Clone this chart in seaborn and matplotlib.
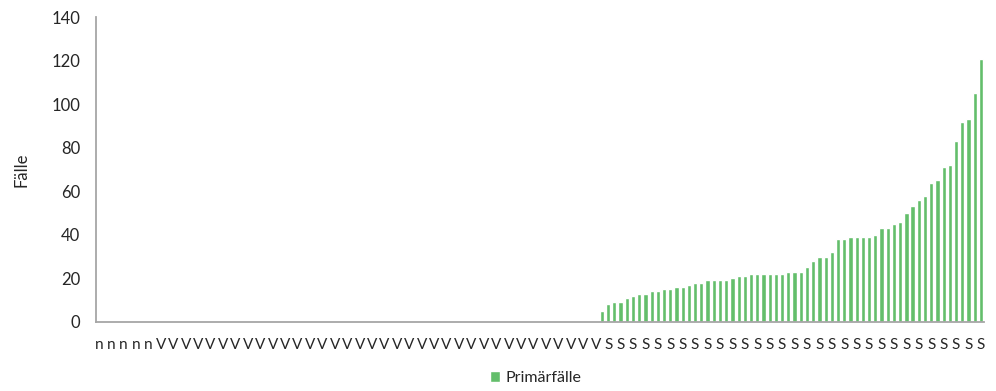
import matplotlib
matplotlib.use("Agg")
import matplotlib.pyplot as plt
import seaborn as sns
import numpy as np
import pandas as pd

# category groups (labels as shown on the axis)
n_labels = ["n"] * 10
v_labels = ["V"] * 71
s_labels = ["S"] * 62

# cases per category: n and V have no cases
n_values = [0] * 10
v_values = [0] * 71
s_values = [5, 8, 9, 9, 11, 12, 13, 13, 14, 14, 15, 15, 16, 16, 17,
            18, 18, 19, 19, 19, 19, 20, 21, 21, 22, 22, 22, 22, 22, 22,
            23, 23, 23, 25, 28, 30, 30, 32, 38, 38, 39, 39, 39, 39, 40,
            43, 43, 45, 46, 50, 53, 56, 58, 64, 65, 71, 72, 83, 92, 93,
            105, 121]

labels = n_labels + v_labels + s_labels
values = n_values + v_values + s_values
df = pd.DataFrame({"pos": np.arange(len(values)), "cases": values})

sns.set_style("white")
plt.rcParams["font.family"] = ["Lato", "DejaVu Sans"]

fig = plt.figure(figsize=(9.96, 3.91), dpi=100)
ax = fig.add_axes([0.096, 0.177, 0.892, 0.779])

sns.barplot(data=df, x="pos", y="cases", color="#63be6b", saturation=1,
            width=0.68, label="Primärfälle", ax=ax)

ax.set_ylim(0, 140)
ax.set_yticks(range(0, 141, 20))
ax.set_xlim(-0.5, len(values) - 0.5)
ax.set_xticks(range(0, len(values), 2))
ax.set_xticklabels(labels[::2], fontsize=11, color="#262626")
ax.tick_params(axis="y", labelsize=12, colors="#262626", length=0, pad=11)
ax.tick_params(axis="x", length=0, pad=12)
ax.set_xlabel("")
ax.set_ylabel("Fälle", fontsize=12, color="#262626", labelpad=16)

for side in ["top", "right"]:
    ax.spines[side].set_visible(False)
for side in ["left", "bottom"]:
    ax.spines[side].set_color("#a6a6a6")
    ax.spines[side].set_linewidth(1.3)

ax.legend(loc="upper center", bbox_to_anchor=(0.495, -0.115), frameon=False,
          fontsize=11.5, handlelength=0.65, handleheight=0.65, handletextpad=0.3)

fig.savefig("out.png", dpi=100)
